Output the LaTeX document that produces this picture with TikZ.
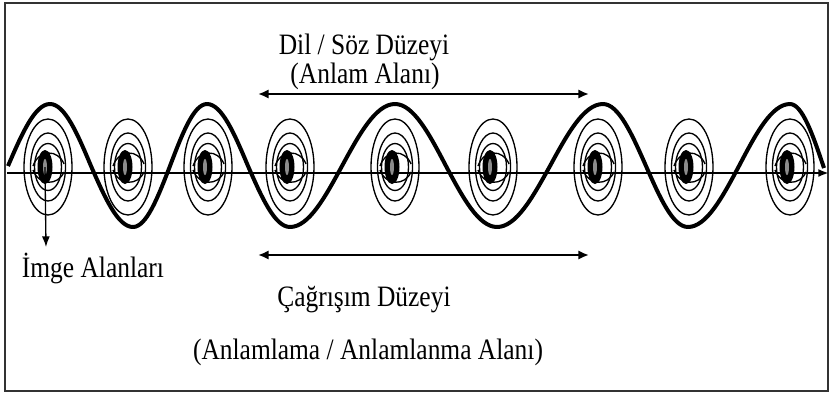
\documentclass[tikz,border=0pt]{standalone}
\usepackage{fontspec}
\setmainfont[FakeStretch=0.86]{Liberation Serif}
\usetikzlibrary{arrows.meta}
\begin{document}
\begin{tikzpicture}[x=0.75pt,y=-0.75pt,
  lbl/.style={font=\fontsize{22.2}{26}\selectfont, inner sep=0pt, anchor=center},
  ring/.style={line width=1pt},
  wave/.style={line width=3pt, line join=round},
  axisline/.style={line width=2.2pt, -{Latex[length=8pt,width=6pt]}},
  span/.style={line width=2pt, {Latex[length=8pt,width=7pt]}-{Latex[length=8pt,width=7pt]}},
  frame/.style={draw=black!80, line width=1.5pt},
  eye/.pic={
    \draw[ring] (3,0) ellipse [x radius=24, y radius=48];
    \draw[ring] (3,0) ellipse [x radius=17.5, y radius=34];
    \draw[ring] (3,0) ellipse [x radius=13.5, y radius=23.5];
    \draw[ring] (-12,-1) .. controls (-6,-18) and (13,-18) .. (19,-3);
    \draw[ring] (-12,3) .. controls (-6,19) and (13,19) .. (19,5);
    \fill[black] (0,0) ellipse [x radius=7.5, y radius=17];
    \fill[black!45] (0,0) ellipse [x radius=2, y radius=8];
  }]
\useasboundingbox (0,0) rectangle (832,394);
\draw[frame] (5,3) rectangle (828,391);

% eye centres
\foreach \n/\x in {1/45,2/125,3/205,4/287,5/392,6/490,7/595,8/686,9/787}
  \coordinate (e\n) at (\x,167);

% axis
\coordinate (axL) at (7,173);
\coordinate (axR) at (829,173);
\draw[axisline] (axL) -- (axR);

% images
\foreach \n in {1,...,9} \pic at (e\n) {eye};

% wave
\draw[wave] (8,166) sin (50,104) cos (91,166) sin (133,227) cos (170,166)
  sin (207,104) cos (248,166) sin (290,227) cos (342,166) sin (395,104)
  cos (446,166) sin (497,227) cos (550,166) sin (603,104) cos (646,166)
  sin (688,227) cos (739,166) sin (790,104) cos (824,168);

% labels
\node[lbl] (dil) at (364,47) {Dil / Söz Düzeyi};
\node[lbl] (anlam) at (365,76) {(Anlam Alanı)};
\node[lbl] (cag) at (364,300) {Çağrışım Düzeyi};
\node[lbl] (anlamlama) at (368,352) {(Anlamlama / Anlamlanma Alanı)};
\node[lbl] (imge) at (93,268) {İmge Alanları};

% span arrows
\coordinate (t1) at (258,94);
\coordinate (t2) at (589,94);
\coordinate (b1) at (258,255);
\coordinate (b2) at (589,255);
\draw[span] (t1) -- (t2);
\draw[span] (b1) -- (b2);

% pointer to image field
\coordinate (pd) at (46,247);
\draw[line width=1pt, -{Latex[length=8pt,width=6pt]}] (e1) -- (pd);
\end{tikzpicture}
\end{document}
